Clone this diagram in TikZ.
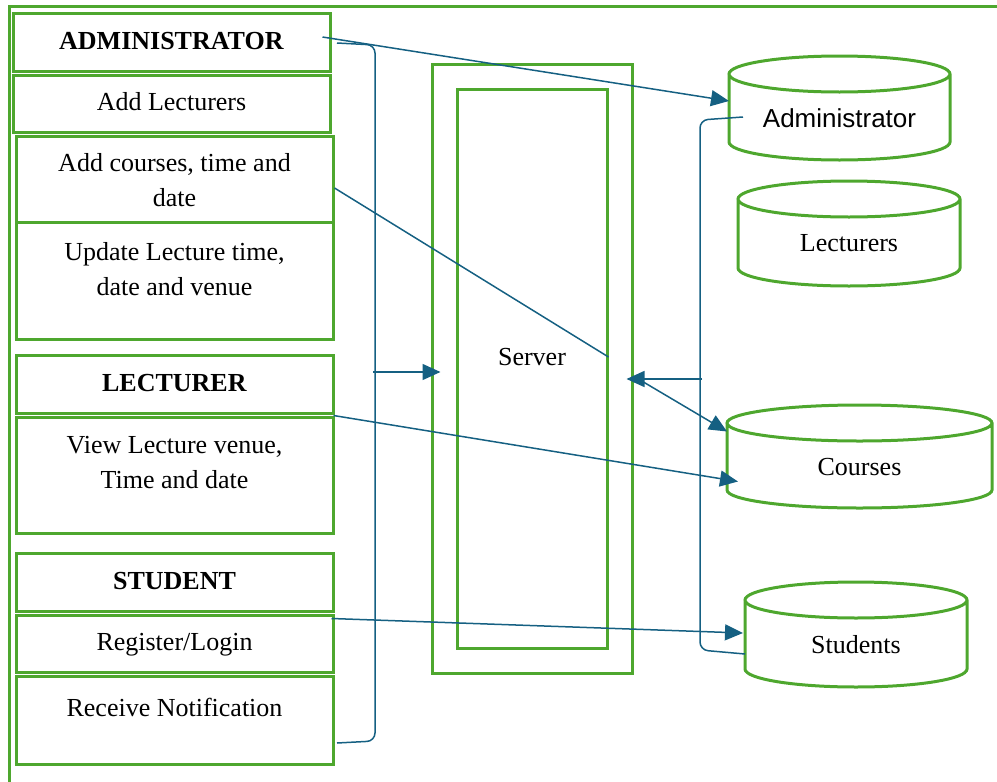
\documentclass[tikz,border=0pt]{standalone}
\usepackage{fontspec}
\setmainfont{Liberation Serif}
\newfontfamily\dbsans{Liberation Sans}
\usetikzlibrary{arrows.meta,calc}
\definecolor{boxgreen}{RGB}{78,167,46}
\definecolor{linkblue}{RGB}{21,96,130}
\def\u{0.5pt}
\def\txt{\fontsize{13}{17.5}\selectfont}
\tikzset{
panel/.style={draw=boxgreen,line width=1.5pt,minimum width=317*\u,align=center,inner sep=0pt,text height=9pt,text depth=2pt,font=\txt},
drum/.style={rectangle,inner sep=0pt,outer sep=0pt,text height=21pt,text depth=2pt,font=\txt},
drumline/.style={draw=boxgreen,line width=1.5pt},
link/.style={draw=linkblue,line width=0.75pt}
}
\begin{document}
\begin{tikzpicture}[x=0.5pt,y=-0.5pt,>={Triangle[length=9pt,width=8pt]}]
\useasboundingbox (0,0) rectangle (997,782);
\draw[boxgreen,line width=1.5pt] (997,6) -- (9,6) -- (9,782);
\node[panel,minimum height=58*\u] (adm) at (171.5,42) {\textbf{ADMINISTRATOR}};
\node[panel,minimum height=57*\u] (lect) at (171.5,103.5) {Add Lecturers};
\node[panel,minimum height=86*\u,text height=29.5pt] (crs) at (174.5,179) {Add courses, time and\\date};
\node[panel,minimum height=117*\u,text height=16.5pt] (upd) at (174.5,280.5) {Update Lecture time,\\date and venue};
\node[panel,minimum height=58*\u] (lec) at (174.5,384) {\textbf{LECTURER}};
\node[panel,minimum height=116*\u,text height=15pt] (view) at (174.5,475) {View Lecture venue,\\Time and date};
\node[panel,minimum height=58*\u] (stu) at (174.5,582) {\textbf{STUDENT}};
\node[panel,minimum height=57*\u] (reg) at (174.5,643.5) {Register/Login};
\node[panel,minimum height=88*\u,text depth=13pt] (rcv) at (174.5,720) {Receive Notification};
\node[panel,minimum width=200*\u,minimum height=609*\u] (srvout) at (532,368.5) {};
\node[panel,minimum width=150*\u,minimum height=559*\u,text depth=12.5pt] (srvin) at (532,368.5) {Server};
\node[drum,minimum width=221*\u,minimum height=104*\u,font=\dbsans\txt] (adb) at (839.5,108) {Administrator};
\node[drum,minimum width=222*\u,minimum height=105*\u,text height=19.5pt] (ldb) at (849,233.5) {Lecturers};
\node[drum,minimum width=265*\u,minimum height=103*\u] (cdb) at (859.5,456.5) {Courses};
\node[drum,minimum width=222*\u,minimum height=105*\u] (sdb) at (856,634.5) {Students};
\foreach \d in {adb,ldb,cdb,sdb}{
\draw[drumline] let \p1=(\d.north west),\p2=(\d.south east),\n1={(\x2-\x1)/2} in
(\x1,\y1-9pt) -- (\x1,\y2+9pt) arc[start angle=180,end angle=360,x radius=\n1,y radius=9pt] -- (\x2,\y1-9pt)
({(\x1+\x2)/2},\y1-9pt) ellipse[x radius=\n1,y radius=9pt];
}
\coordinate (brtip) at (373,372);
\coordinate (rbtip) at (702,379);
\draw[link,rounded corners=4pt] (337,43) -- (375,45) -- (375,741) -- (337,743);
\draw[link,rounded corners=4pt] (743,117) -- (700,120) -- (700,650) -- (745,654);
\draw[link,->] ($(adm.east)+(-9,-5)$) -- ($(adb.west)+(0,-7)$);
\draw[link] ($(crs.east)+(0,9)$) -- ($(srvin.east)+(0,-11.5)$);
\draw[link,->] (brtip) -- ($(srvout.west)+(10,3.5)$);
\draw[link,->] (rbtip) -- ($(srvout.east)+(-7,10.5)$);
\draw[link,->] ($(srvout.east)+(4,10)$) -- ($(cdb.west)+(0,-25)$);
\draw[link,->] ($(view.north east)+(-1,0)$) -- ($(cdb.west)+(11,25)$);
\draw[link,->] ($(reg.north east)+(-3,5)$) -- ($(sdb.west)+(-2,-1.5)$);
\end{tikzpicture}
\end{document}
